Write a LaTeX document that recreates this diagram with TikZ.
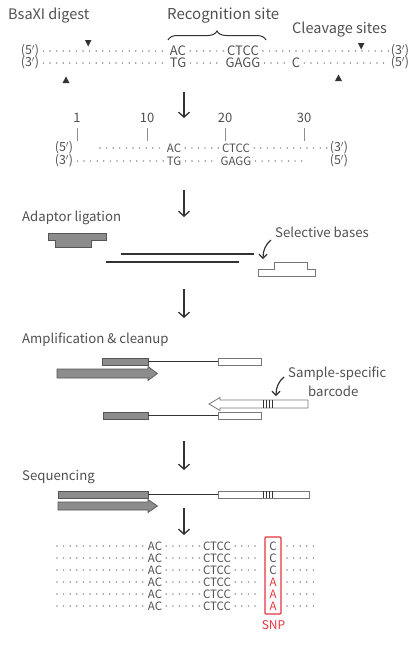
\documentclass[tikz,border=0pt]{standalone}
\usepackage{fontspec}
\setmainfont{Noto Sans CJK SC}
\usetikzlibrary{arrows.meta,decorations.pathreplacing}
\definecolor{txt}{HTML}{505050}
\definecolor{dotc}{HTML}{8E8E8E}
\definecolor{dark}{HTML}{333333}
\definecolor{gfill}{HTML}{8C8C8C}
\definecolor{gline}{HTML}{555555}
\definecolor{wline}{HTML}{777777}
\definecolor{snp}{HTML}{E8323C}
\tikzset{
  lbl/.style={font=\fontsize{14.5}{16}\selectfont, text=txt, inner sep=0pt, anchor=west},
  steplbl/.style={lbl, font=\fontsize{13.2}{15}\selectfont},
  seq/.style={font=\fontsize{11.5}{12}\selectfont, text=txt, inner sep=0pt},
  bigseq/.style={seq, font=\fontsize{13}{14}\selectfont},
  prime/.style={font=\fontsize{12.5}{13}\selectfont, text=txt, inner sep=0pt},
  num/.style={font=\fontsize{13}{14}\selectfont, text=txt, inner sep=0pt},
  dots/.style={dotc, line width=1.7pt, line cap=round, dash pattern=on 0pt off 6.6pt},
  flow/.style={dark, line width=1.3pt, -{Straight Barb[length=5pt,width=11pt,line width=1.3pt]}},
  pointer/.style={dark, line width=1.2pt, -{Straight Barb[length=4pt,width=8pt,line width=1.2pt]}},
  tri/.style={fill=dark, draw=none},
  gbox/.style={fill=gfill, draw=gline, line width=0.7pt},
  wbox/.style={fill=white, draw=wline, line width=0.8pt},
  strand/.style={dark, line width=1.8pt},
  thin/.style={dark, line width=1pt},
  bar/.style={dark, line width=0.6pt}
}
\begin{document}
\begin{tikzpicture}[x=1pt,y=-1pt]
\useasboundingbox (0,0) rectangle (414,659);
% ---------------- Row 1: BsaXI digest
\node[lbl] (l1) at (8,16) {BsaXI digest};
\node[lbl, font=\fontsize{15}{17}\selectfont] (l2) at (167,16) {Recognition site};
\node[lbl] (l3) at (292,30) {Cleavage sites};
\coordinate (brA) at (168,40);
\coordinate (brB) at (266,40);
\draw[dark, line width=1pt, decorate, decoration={brace, amplitude=9pt}] (brA) -- (brB);
% top strand
\node[prime] (a1) at (30,51) {(5$'$)};
\node[bigseq] (a2) at (178,51) {AC};
\node[bigseq] (a3) at (243,51) {CTCC};
\node[prime] (a4) at (400,51) {(3$'$)};
\draw[dots] (a1.east) ++(4,0) -- ([xshift=-3pt]a2.west);
\draw[dots] ([xshift=4pt]a2.east) -- ([xshift=-3pt]a3.west);
\draw[dots] ([xshift=4pt]a3.east) -- ([xshift=-2pt]a4.west);
% bottom strand
\node[prime] (b1) at (30,63) {(3$'$)};
\node[bigseq] (b2) at (178,63) {TG};
\node[bigseq] (b3) at (243,63) {GAGG};
\node[bigseq] (b4) at (296,63) {C};
\node[prime] (b5) at (400,63) {(5$'$)};
\draw[dots] (b1.east) ++(4,0) -- ([xshift=-3pt]b2.west);
\draw[dots] ([xshift=4pt]b2.east) -- ([xshift=-3pt]b3.west);
\draw[dots] ([xshift=4pt]b3.east) -- ([xshift=-3pt]b4.west);
\draw[dots] ([xshift=4pt]b4.east) -- ([xshift=-2pt]b5.west);
% cleavage triangles
\fill[tri] (85,40) -- (91.5,40) -- (88.2,46.5) -- cycle;
\fill[tri] (358,43) -- (364.5,43) -- (361.2,49.5) -- cycle;
\fill[tri] (62.5,83) -- (69.5,83) -- (66,76.5) -- cycle;
\fill[tri] (335,81) -- (342,81) -- (338.5,74.5) -- cycle;
% flow arrow 1
\coordinate (f1s) at (184,92);
\coordinate (f1e) at (184,118);
\draw[flow] (f1s) -- (f1e);
% ---------------- Row 2: numbered fragment
\foreach \n/\x in {1/77,10/147,20/225,30/304}{
  \node[num] (n\n) at (\x,118) {\n};
  \draw[dotc, line width=1pt] (\x,128) -- (\x,141);
}
\node[prime] (c1) at (64,148) {(5$'$)};
\node[seq] (c2) at (174,148) {AC};
\node[seq] (c3) at (236,148) {CTCC};
\node[prime] (c4) at (339,148) {(3$'$)};
\draw[dots] (100,148) -- ([xshift=-3pt]c2.west);
\draw[dots] ([xshift=4pt]c2.east) -- ([xshift=-3pt]c3.west);
\draw[dots] ([xshift=4pt]c3.east) -- ([xshift=-2pt]c4.west);
\node[prime] (d1) at (64,161) {(3$'$)};
\node[seq] (d2) at (174,161) {TG};
\node[seq] (d3) at (236,161) {GAGG};
\node[prime] (d4) at (339,161) {(5$'$)};
\draw[dots] (d1.east) ++(4,0) -- ([xshift=-3pt]d2.west);
\draw[dots] ([xshift=4pt]d2.east) -- ([xshift=-3pt]d3.west);
\draw[dots] ([xshift=4pt]d3.east) -- (305,161);
% flow arrow 2
\coordinate (f2s) at (184,190);
\coordinate (f2e) at (184,217);
\draw[flow] (f2s) -- (f2e);
% ---------------- Row 3: Adaptor ligation
\node[steplbl] (l4) at (22,218) {Adaptor ligation};
\draw[gbox] (48,233) -- (106,233) -- (106,240) -- (91,240) -- (91,247) -- (55,247) -- (55,240) -- (48,240) -- cycle;
\draw[strand] (121,254) -- (254,254);
\draw[strand] (106,262) -- (239,262);
\draw[wbox] (274,262) -- (307,262) -- (307,269) -- (315,269) -- (315,276) -- (258,276) -- (258,269) -- (274,269) -- cycle;
\node[steplbl] (l5) at (275,232) {Selective bases};
\coordinate (p1s) at (271,240);
\coordinate (p1e) at (263,259);
\draw[pointer] (p1s) .. controls (266,244) and (263,250) .. (p1e);
% flow arrow 3
\coordinate (f3s) at (184,289);
\coordinate (f3e) at (184,318);
\draw[flow] (f3s) -- (f3e);
% ---------------- Row 4: Amplification
\node[steplbl] (l6) at (22,340) {Amplification \& cleanup};
\draw[gbox] (102,358) rectangle (148,365);
\draw[thin] (148,361.5) -- (218,361.5);
\draw[wbox] (218,358) rectangle (261,365);
\draw[gbox] (57,369) -- (148,369) -- (148,366.5) -- (157.5,373.5) -- (148,380.5) -- (148,378) -- (57,378) -- cycle;
\node[steplbl] (l7) at (288,374) {Sample-specific};
\node[steplbl] (l8) at (308,391) {barcode};
\coordinate (p2s) at (284,377);
\coordinate (p2e) at (276,396);
\draw[pointer] (p2s) .. controls (279,381) and (276,387) .. (p2e);
\draw[wbox] (308,400) -- (220,400) -- (220,397.5) -- (209,404) -- (220,410.5) -- (220,408) -- (308,408) -- cycle;
\foreach \x in {263,266,269,272} \draw[bar] (\x,400) -- (\x,408);
\draw[gbox] (103,412) rectangle (148,419);
\draw[thin] (148,415.5) -- (218,415.5);
\draw[wbox] (218,412) rectangle (261,419);
% flow arrow 4
\coordinate (f4s) at (184,441);
\coordinate (f4e) at (184,470);
\draw[flow] (f4s) -- (f4e);
% ---------------- Row 5: Sequencing
\node[steplbl] (l9) at (22,477) {Sequencing};
\draw[gbox] (58,491) rectangle (148,498);
\draw[thin] (148,494.5) -- (218,494.5);
\draw[wbox] (218,491) rectangle (309,498);
\foreach \x in {263,266,269,272} \draw[bar] (\x,491) -- (\x,498);
\draw[gbox] (58,502) -- (148,502) -- (148,499.5) -- (157.5,506) -- (148,512.5) -- (148,510) -- (58,510) -- cycle;
% flow arrow 5
\coordinate (f5s) at (184,508);
\coordinate (f5e) at (184,535);
\draw[flow] (f5s) -- (f5e);
% ---------------- Row 6: reads
\foreach \i/\b/\c in {0/C/txt,1/C/txt,2/C/txt,3/A/snp,4/A/snp,5/A/snp}{
  \pgfmathsetmacro{\yy}{546+12*\i}
  \node[seq] (r\i a) at (155,\yy) {AC};
  \node[seq] (r\i b) at (217,\yy) {CTCC};
  \node[seq, text=\c] (r\i c) at (273,\yy) {\b};
  \draw[dots] (57,\yy) -- ([xshift=-3pt]r\i a.west);
  \draw[dots] ([xshift=4pt]r\i a.east) -- ([xshift=-3pt]r\i b.west);
  \draw[dots] ([xshift=4pt]r\i b.east) -- (261,\yy);
  \draw[dots] (287,\yy) -- (318,\yy);
}
\draw[snp, line width=1.2pt, rounded corners=1pt] (265,537) rectangle (281,614);
\node[seq, text=snp, font=\fontsize{12}{13}\selectfont] (snpl) at (273.5,625) {SNP};
\end{tikzpicture}
\end{document}
